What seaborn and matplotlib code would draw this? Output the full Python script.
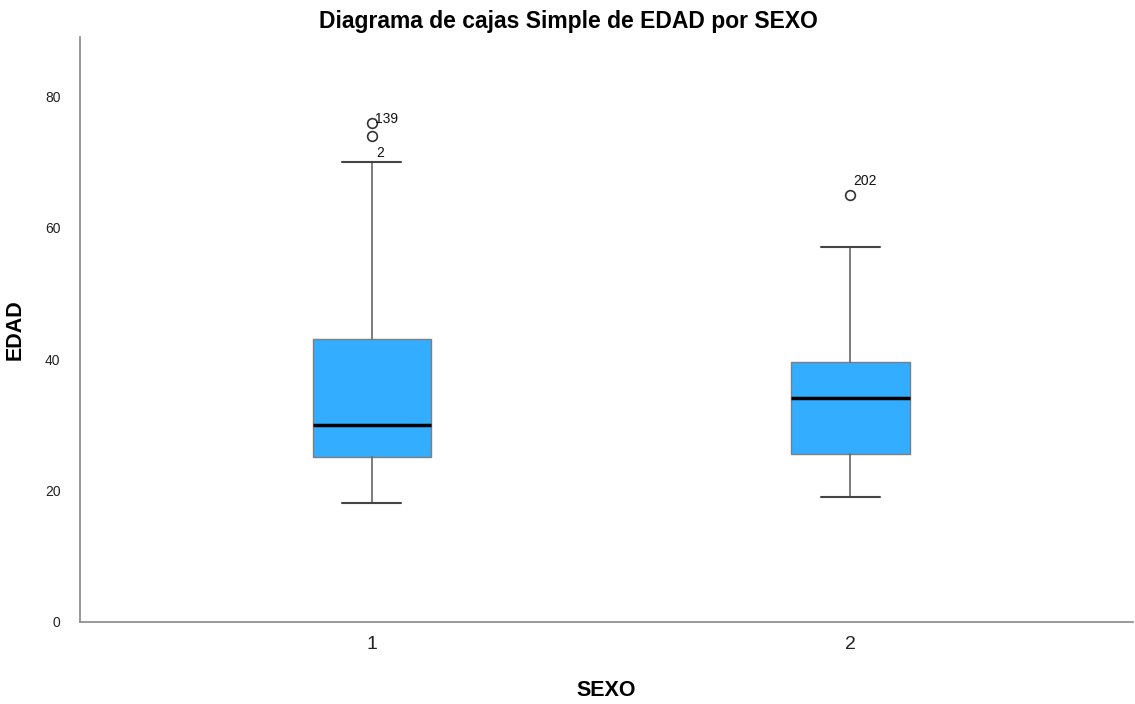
import numpy as np
import pandas as pd
import matplotlib
matplotlib.use("Agg")
import matplotlib.pyplot as plt
import seaborn as sns

# box summary values (EDAD by SEXO)
sexo = ["1", "2"]
whislo = [18, 19]
q1 = [25, 25.5]
med = [30, 34]
q3 = [43, 39.5]
whishi = [70, 57]
outliers = [[76, 74], [65]]
outlier_ids = [["139", "2"], ["202"]]

sns.set_theme(style="white")
plt.rcParams["font.family"] = ["Liberation Sans", "DejaVu Sans"]

stats = pd.DataFrame({"label": sexo, "whislo": whislo, "q1": q1, "med": med,
                      "q3": q3, "whishi": whishi})
stats["fliers"] = outliers
bxp_stats = stats.to_dict("records")

fig, ax = plt.subplots(figsize=(11.35, 7.04), dpi=100)
fig.subplots_adjust(left=0.0705, right=0.998, top=0.947, bottom=0.117)

edge = "#666666"
ax.bxp(bxp_stats, positions=[1, 2], widths=0.247, patch_artist=True,
       boxprops=dict(facecolor="#33adff", edgecolor="#7f7f7f", linewidth=1.0),
       whiskerprops=dict(color=edge, linewidth=1.2),
       capprops=dict(color="#444444", linewidth=1.5),
       medianprops=dict(color="black", linewidth=2.5),
       flierprops=dict(marker="o", markerfacecolor="white", markeredgecolor="#333333",
                       markersize=7, markeredgewidth=1.2),
       capwidths=0.123)

# outlier case labels
for i, (vals, ids) in enumerate(zip(outliers, outlier_ids)):
    for v, lab in zip(vals, ids):
        if lab == "2":
            ax.annotate(lab, (i + 1, v), xytext=(3, -15), textcoords="offset points",
                        fontsize=10, color="#111111")
        elif lab == "202":
            ax.annotate(lab, (i + 1, v), xytext=(2, 7), textcoords="offset points",
                        fontsize=10, color="#111111")
        else:
            ax.annotate(lab, (i + 1, v), xytext=(2, 0), textcoords="offset points",
                        fontsize=10, color="#111111")

ax.set_xlim(0.39, 2.59)
ax.set_ylim(0, 89)
ax.set_yticks([0, 20, 40, 60, 80])
ax.set_xticks([1, 2])
ax.set_xticklabels(sexo)
ax.tick_params(axis="y", length=0, labelsize=10, labelcolor="#222222", pad=14)
ax.tick_params(axis="x", length=0, labelsize=14, labelcolor="#222222", pad=10)

sns.despine(ax=ax)
for s in ["left", "bottom"]:
    ax.spines[s].set_color("#888888")
    ax.spines[s].set_linewidth(1.2)

ax.set_xlabel("SEXO", fontsize=15.5, fontweight="bold", color="black", labelpad=20)
ax.set_ylabel("EDAD", fontsize=15.5, fontweight="bold", color="black", labelpad=14)
fig.suptitle("Diagrama de cajas Simple de EDAD por SEXO", fontsize=16.5,
             fontweight="bold", color="black", x=0.501, y=0.986)

fig.savefig("out.png", dpi=100)
